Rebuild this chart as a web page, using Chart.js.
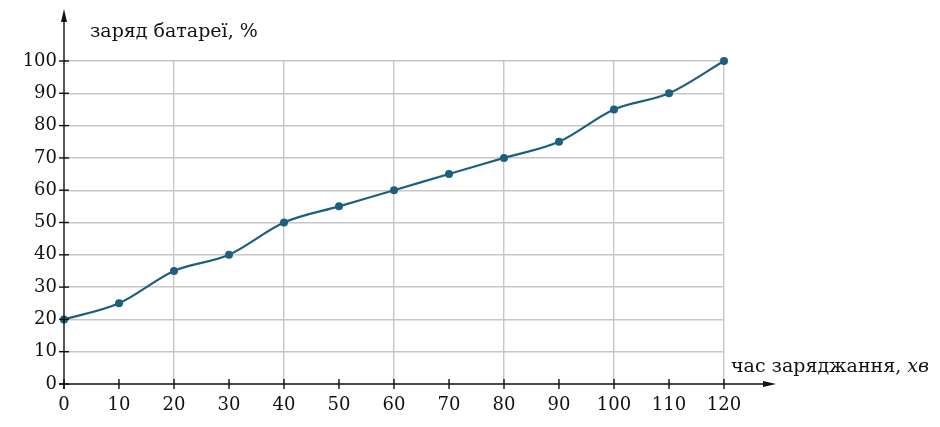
<!DOCTYPE html>
<html>
<head>
  <title>Заряд батареї</title>
  <script src="https://cdn.jsdelivr.net/npm/chart.js"></script>
  <style>
    body { margin: 0; background: #fff; }
    #wrap { width: 940px; height: 427px; }
  </style>
</head>
<body>
  <div id="wrap"><canvas id="chargeChart"></canvas></div>

  <script>
    // charging time, minutes
    const minutes = [0, 10, 20, 30, 40, 50, 60, 70, 80, 90, 100, 110, 120];
    // battery level, %
    const charge = [20, 25, 35, 40, 50, 55, 60, 65, 70, 75, 85, 90, 100];

    const yTitle = 'заряд батареї, %';
    const xTitle = 'час заряджання, ';
    const xUnit = 'хв';

    const serif = '"DejaVu Serif", "Liberation Serif", serif';
    const lineColor = '#1e5f7f';

    // axes with arrows and cross ticks, plus the two axis titles
    const axesPlugin = {
      id: 'arrowAxes',
      afterDatasetsDraw(chart) {
        const ctx = chart.ctx;
        const x = chart.scales.x, y = chart.scales.y;
        const x0 = x.getPixelForValue(0);
        const y0 = y.getPixelForValue(0);
        ctx.save();
        ctx.strokeStyle = '#111';
        ctx.fillStyle = '#111';
        ctx.lineWidth = 1.4;

        // y axis
        ctx.beginPath();
        ctx.moveTo(x0, y0 + 5);
        ctx.lineTo(x0, 14);
        ctx.stroke();
        ctx.beginPath();
        ctx.moveTo(x0, 9);
        ctx.lineTo(x0 - 3, 22);
        ctx.lineTo(x0 + 3, 22);
        ctx.closePath();
        ctx.fill();

        // x axis
        ctx.beginPath();
        ctx.moveTo(x0 - 5, y0);
        ctx.lineTo(770, y0);
        ctx.stroke();
        ctx.beginPath();
        ctx.moveTo(776, y0);
        ctx.lineTo(763, y0 - 3);
        ctx.lineTo(763, y0 + 3);
        ctx.closePath();
        ctx.fill();

        // tick marks
        y.ticks.forEach(t => {
          const py = y.getPixelForValue(t.value);
          ctx.beginPath();
          ctx.moveTo(x0 - 5, py);
          ctx.lineTo(x0 + 5, py);
          ctx.stroke();
        });
        x.ticks.forEach(t => {
          const px = x.getPixelForValue(t.value);
          ctx.beginPath();
          ctx.moveTo(px, y0 - 5);
          ctx.lineTo(px, y0 + 5);
          ctx.stroke();
        });

        // titles
        ctx.textBaseline = 'alphabetic';
        ctx.textAlign = 'left';
        ctx.font = '19px ' + serif;
        ctx.fillText(yTitle, 90, 37);
        ctx.fillText(xTitle, 731, 372);
        const w = ctx.measureText(xTitle).width;
        ctx.font = 'italic 19px ' + serif;
        ctx.fillText(xUnit, 731 + w, 372);
        ctx.restore();
      }
    };

    const ctx = document.getElementById('chargeChart').getContext('2d');
    new Chart(ctx, {
      type: 'line',
      data: {
        labels: minutes,
        datasets: [{
          data: minutes.map((m, i) => ({ x: m, y: charge[i] })),
          borderColor: lineColor,
          backgroundColor: lineColor,
          borderWidth: 2.2,
          pointRadius: 4,
          pointBackgroundColor: lineColor,
          pointBorderWidth: 0,
          cubicInterpolationMode: 'monotone',
          clip: false,
          fill: false
        }]
      },
      options: {
        responsive: true,
        maintainAspectRatio: false,
        animation: false,
        layout: { padding: { left: 0, right: 216, top: 61, bottom: 0 } },
        plugins: {
          legend: { display: false },
          tooltip: { enabled: false }
        },
        scales: {
          x: {
            type: 'linear',
            min: 0,
            max: 120,
            afterFit: s => { s.height = 43; },
            border: { display: false },
            grid: {
              drawTicks: false,
              lineWidth: 1.4,
              color: c => (c.tick && c.tick.value % 20 === 0 && c.tick.value !== 0) ? '#c6c6c6' : 'rgba(0,0,0,0)'
            },
            ticks: {
              stepSize: 10,
              padding: 11,
              maxRotation: 0,
              autoSkip: false,
              color: '#111',
              font: { family: serif, size: 18 }
            }
          },
          y: {
            min: 0,
            max: 100,
            afterFit: s => { s.width = 64; },
            border: { display: false },
            grid: {
              drawTicks: false,
              lineWidth: 1.4,
              color: c => (c.tick && c.tick.value !== 0) ? '#c6c6c6' : 'rgba(0,0,0,0)'
            },
            ticks: {
              stepSize: 10,
              padding: 7,
              color: '#111',
              font: { family: serif, size: 18 }
            }
          }
        }
      },
      plugins: [axesPlugin]
    });
  </script>
</body>
</html>
